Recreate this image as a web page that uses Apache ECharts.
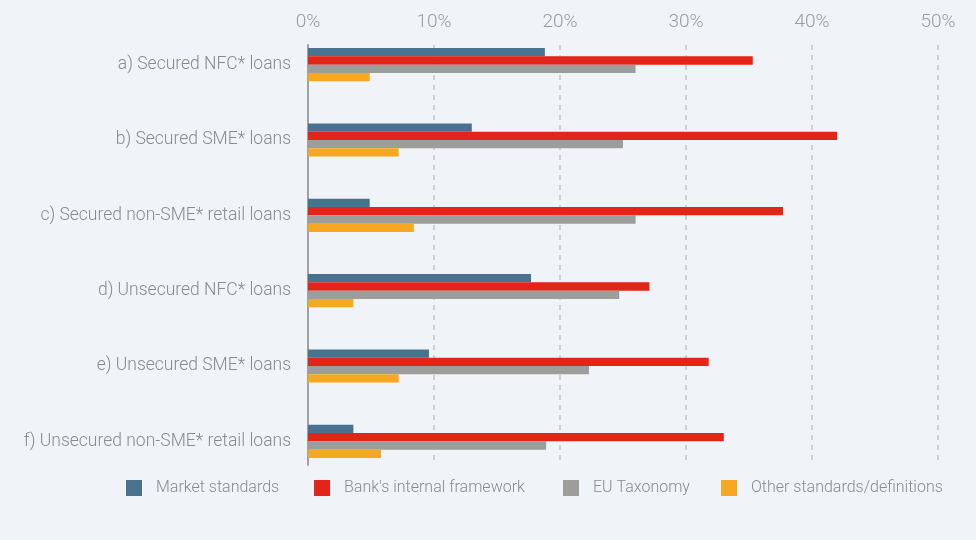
<!DOCTYPE html>
<html>
<head>
<meta charset="utf-8">
<style>
  html, body { margin: 0; padding: 0; background: #f0f3f8; }
  #chart { width: 976px; height: 540px; }
</style>
<script src="https://cdn.jsdelivr.net/npm/echarts@6/dist/echarts.min.js"></script>
</head>
<body>
<div id="chart"></div>
<script>
const categories = [
  'a) Secured NFC* loans',
  'b) Secured SME* loans',
  'c) Secured non-SME* retail loans',
  'd) Unsecured NFC* loans',
  'e) Unsecured SME* loans',
  'f) Unsecured non-SME* retail loans',
];
const marketStandards = [18.8, 13.0, 4.9, 17.7, 9.6, 3.6];
const bankFramework = [35.3, 42.0, 37.7, 27.1, 31.8, 33.0];
const euTaxonomy = [26.0, 25.0, 26.0, 24.7, 22.3, 18.9];
const otherStandards = [4.9, 7.2, 8.4, 3.6, 7.2, 5.8];
const seriesNames = ['Market standards', "Bank's internal framework", 'EU Taxonomy', 'Other standards/definitions'];
const seriesColors = ['#48728f', '#e32519', '#9d9d9b', '#f6a823'];
// where each legend entry starts, the reference spaces them unevenly
const legendLeft = [126, 314, 563, 721];

const font = 'Roboto, "Noto Sans", sans-serif';
const chart = echarts.init(document.getElementById('chart'));

const values = [marketStandards, bankFramework, euTaxonomy, otherStandards];

chart.setOption({
  backgroundColor: '#f0f3f8',
  animation: false,
  legend: seriesNames.map((name, i) => ({
    left: legendLeft[i],
    top: 480,
    padding: 0,
    itemWidth: 16,
    itemHeight: 16,
    icon: 'rect',
    textStyle: { fontFamily: font, fontWeight: 300, fontSize: 16, color: '#8a8a8a', padding: [0, 0, 0, 9] },
    data: [name],
  })),
  grid: [
    { left: 308, right: 38, top: 27, bottom: 61, outerBoundsMode: 'none' },
    { left: 308, right: 38, top: 45, bottom: 75, outerBoundsMode: 'none' },
  ],
  xAxis: [
    { gridIndex: 0, type: 'value', min: 0, max: 50, show: false },
    {
      gridIndex: 1,
      type: 'value',
      position: 'top',
      min: 0,
      max: 50,
      interval: 10,
      axisLine: { show: false },
      axisTick: { show: false },
      axisLabel: {
        formatter: '{value}%',
        fontFamily: font,
        fontWeight: 300,
        fontSize: 19,
        color: '#9b9b9b',
        margin: 13,
      },
      splitLine: {
        show: true,
        lineStyle: { color: '#cdd0d4', type: [5, 5], width: 2 },
      },
    },
  ],
  yAxis: [
    {
      gridIndex: 0,
      type: 'category',
      inverse: true,
      data: categories,
      axisLine: { show: false },
      axisTick: { show: false },
      axisLabel: {
        fontFamily: font,
        fontWeight: 300,
        fontSize: 17.5,
        color: '#8a8a8a',
        margin: 17,
        padding: [4, 0, 0, 0],
      },
    },
    {
      gridIndex: 1,
      type: 'value',
      min: 0,
      max: 1,
      axisLine: { show: true, lineStyle: { color: '#a0a0a0', width: 2 } },
      axisTick: { show: false },
      axisLabel: { show: false },
      splitLine: { show: false },
    },
  ],
  series: seriesNames.map((name, i) => ({
    name,
    type: 'bar',
    xAxisIndex: 0,
    yAxisIndex: 0,
    data: values[i],
    barWidth: 8.3,
    barGap: '0%',
    itemStyle: { color: seriesColors[i] },
  })),
});
</script>
</body>
</html>
